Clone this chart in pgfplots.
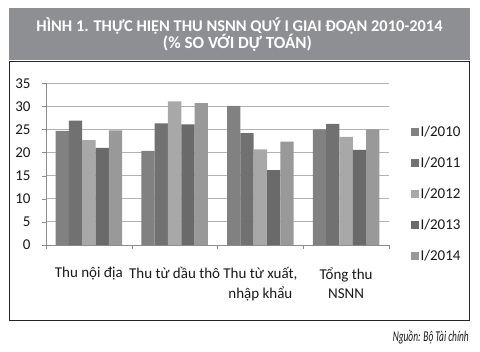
\documentclass[border=0pt]{standalone}
\usepackage{fontspec}
\setmainfont{Carlito}
\usepackage{pgfplots}
\pgfplotsset{compat=1.18}
\definecolor{cA}{HTML}{818181}
\definecolor{cB}{HTML}{717171}
\definecolor{cC}{HTML}{A8A8A8}
\definecolor{cD}{HTML}{6A6A6A}
\definecolor{cE}{HTML}{999999}
\definecolor{titlegray}{HTML}{8E8F92}
\begin{document}
\begin{tikzpicture}
\useasboundingbox[fill=white] (0,0) rectangle (480bp,352bp);
\fill[titlegray] (9bp,292bp) rectangle (470bp,344bp);
\node[white, anchor=base, font=\bfseries\fontsize{15bp}{18bp}\selectfont, inner sep=0pt] at (239.5bp,320.5bp) {\resizebox{406bp}{!}{HÌNH 1. THỰC HIỆN THU NSNN QUÝ I GIAI ĐOẠN 2010-2014}};
\node[white, anchor=base, font=\bfseries\fontsize{15bp}{18bp}\selectfont, inner sep=0pt] at (237.5bp,303.5bp) {\resizebox{149bp}{!}{(\% SO VỚI DỰ TOÁN)}};
\draw[line width=1bp, black!85] (9.5bp,31.5bp) rectangle (469.5bp,290bp);
\node[anchor=base east, font=\itshape\fontsize{15bp}{18bp}\selectfont, inner sep=0pt, text=black!90] at (469bp,10bp) {\resizebox{76bp}{\height}{Nguồn: Bộ Tài chính}};
\begin{axis}[
  at={(46bp,107bp)}, anchor=south west,
  scale only axis, width=343bp, height=161.7bp,
  xmin=-0.5, xmax=3.5, ymin=0, ymax=35,
  ytick={0,5,...,35},
  /pgf/number format/assume math mode=true,
  axis x line=bottom, axis y line=left,
  axis line style={-, color=black!45},
  ymajorgrids, grid style={color=black!30, line width=0.8bp},
  tick align=outside, major tick length=4bp,
  tick style={color=black!45},
  xtick={-0.5,0.5,1.5,2.5,3.5}, xticklabels={},
  extra x ticks={0,1,2,3},
  extra x tick style={major tick length=0pt, grid=none},
  extra x tick labels={{Thu nội địa},{Thu từ dầu thô},{Thu từ xuất,\\nhập khẩu},{Tổng thu\\NSNN}},
  xticklabel style={align=center, font=\fontsize{15bp}{19.5bp}\selectfont, text=black!90, yshift=-19bp},
  yticklabel style={font=\fontsize{15bp}{18bp}\selectfont, text=black!90, xshift=-8bp},
  ybar=0pt, bar width=13.3bp,
  legend style={at={(1.055,0.758)}, anchor=north west, draw=none, fill=none,
    font=\fontsize{15bp}{18bp}\selectfont, text=black!90, row sep=16bp,
    nodes={inner sep=1.5bp}},
  legend cell align=left,
  legend image code/.code={\fill[#1] (0bp,-4bp) rectangle (8bp,4bp);},
]
\addplot[fill=cA, draw=none] coordinates {(0,24.7) (1,20.4) (2,30.1) (3,25.0)};
\addplot[fill=cB, draw=none] coordinates {(0,26.9) (1,26.3) (2,24.2) (3,26.2)};
\addplot[fill=cC, draw=none] coordinates {(0,22.7) (1,31.1) (2,20.7) (3,23.4)};
\addplot[fill=cD, draw=none] coordinates {(0,21.0) (1,26.1) (2,16.2) (3,20.6)};
\addplot[fill=cE, draw=none] coordinates {(0,24.8) (1,30.7) (2,22.4) (3,25.0)};
\legend{I/2010,I/2011,I/2012,I/2013,I/2014}
\end{axis}
\end{tikzpicture}
\end{document}
